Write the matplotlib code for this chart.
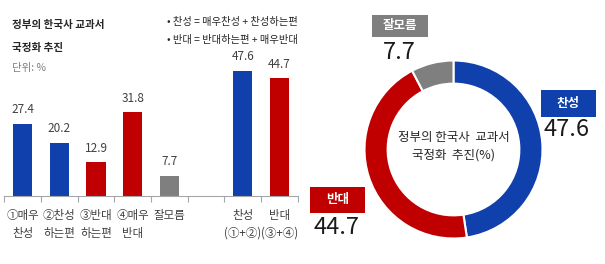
import matplotlib
matplotlib.use("Agg")
import matplotlib.pyplot as plt
from matplotlib.patches import Rectangle

plt.rcParams['font.family'] = ['Noto Sans CJK KR', 'DejaVu Sans']

# ---- data ----
bar_labels = ["①매우\n찬성", "②찬성\n하는편", "③반대\n하는편", "④매우\n반대", "잘모름", "", "찬성\n(①+②)", "반대\n(③+④)"]
bar_values = [27.4, 20.2, 12.9, 31.8, 7.7, None, 47.6, 44.7]
bar_kinds = ["pro", "pro", "con", "con", "dk", None, "pro", "con"]

donut_labels = ["찬성", "반대", "잘모름"]
donut_values = [47.6, 44.7, 7.7]

title_lines = ["정부의 한국사 교과서", "국정화 추진"]
unit_text = "단위: %"
note_lines = ["• 찬성 = 매우찬성 + 찬성하는편", "• 반대 = 반대하는편 + 매우반대"]
donut_center = "정부의 한국사  교과서\n국정화  추진(%)"

BLUE = "#0F40AC"
RED = "#C00000"
GRAY = "#7F7F7F"
TXT = "#404040"
colmap = {"pro": BLUE, "con": RED, "dk": GRAY}

W, H = 605, 264
fig = plt.figure(figsize=(W / 100, H / 100), dpi=100)

# ---- bar chart ----
x0, x1, base, top = 4.3, 297.7, 196, 38
ax = fig.add_axes([x0 / W, (H - base) / H, (x1 - x0) / W, (base - top) / H])
n = len(bar_labels)
ax.set_xlim(-0.5, n - 0.5)
ax.set_ylim(0, 60)
for i, (v, k) in enumerate(zip(bar_values, bar_kinds)):
    if v is None:
        continue
    ax.bar(i, v, width=0.53, color=colmap[k], zorder=2)
    ax.text(i, v + 2.8, f"{v}", ha="center", va="bottom", fontsize=8.5, color=TXT)
for s in ["top", "right", "left"]:
    ax.spines[s].set_visible(False)
ax.spines["bottom"].set_color("#A6A6A6")
ax.spines["bottom"].set_linewidth(0.8)
ax.set_yticks([])
ax.set_xticks(range(n))
ax.set_xticklabels(bar_labels, fontsize=8.3, color=TXT, linespacing=1.55, va="top")
ax.tick_params(axis="x", which="major", length=0, pad=9)
ax.set_xticks([i - 0.5 for i in range(n + 1)], minor=True)
ax.tick_params(axis="x", which="minor", length=4, color="#A6A6A6", width=0.8)

# titles
fig.text(12 / W, 1 - 25 / H, title_lines[0], fontsize=7.6, fontweight="bold", color="#262626", va="center")
fig.text(12 / W, 1 - 48 / H, title_lines[1], fontsize=7.6, fontweight="bold", color="#262626", va="center")
fig.text(12 / W, 1 - 68 / H, unit_text, fontsize=7.5, color="#7F7F7F", va="center")
fig.text(167 / W, 1 - 22 / H, note_lines[0], fontsize=7.4, color="#262626", va="center")
fig.text(167 / W, 1 - 40 / H, note_lines[1], fontsize=7.4, color="#262626", va="center")

# ---- donut ----
cx, cy, r = 453.5, 149.5, 89
ax2 = fig.add_axes([(cx - r) / W, (H - cy - r) / H, 2 * r / W, 2 * r / H])
ax2.pie(donut_values, colors=[BLUE, RED, GRAY], startangle=90, counterclock=False,
        radius=1, wedgeprops=dict(width=0.26, edgecolor="white", linewidth=1.5))
ax2.set_xlim(-1, 1)
ax2.set_ylim(-1, 1)
ax2.axis("off")
ax2.text(0, 0.04, donut_center, ha="center", va="center", fontsize=9, color="#262626", linespacing=1.45)

def boxlabel(xl, xr, yt, yb, text, color, val, vx, vy):
    fig.patches.append(Rectangle((xl / W, 1 - yb / H), (xr - xl) / W, (yb - yt) / H,
                                 transform=fig.transFigure, facecolor=color, edgecolor="none"))
    fig.text((xl + xr) / 2 / W, 1 - (yt + yb) / 2 / H, text, ha="center", va="center",
             fontsize=9, color="white", fontweight="bold")
    fig.text(vx / W, 1 - vy / H, f"{val}", ha="center", va="center", fontsize=17, color="#1A1A1A")

boxlabel(541, 596, 90, 117, donut_labels[0], BLUE, donut_values[0], 567, 130)
boxlabel(310, 365, 187, 213, donut_labels[1], RED, donut_values[1], 336, 228)
boxlabel(372, 428, 15, 37, donut_labels[2], GRAY, donut_values[2], 399, 53)

fig.savefig("out.png", dpi=100)
